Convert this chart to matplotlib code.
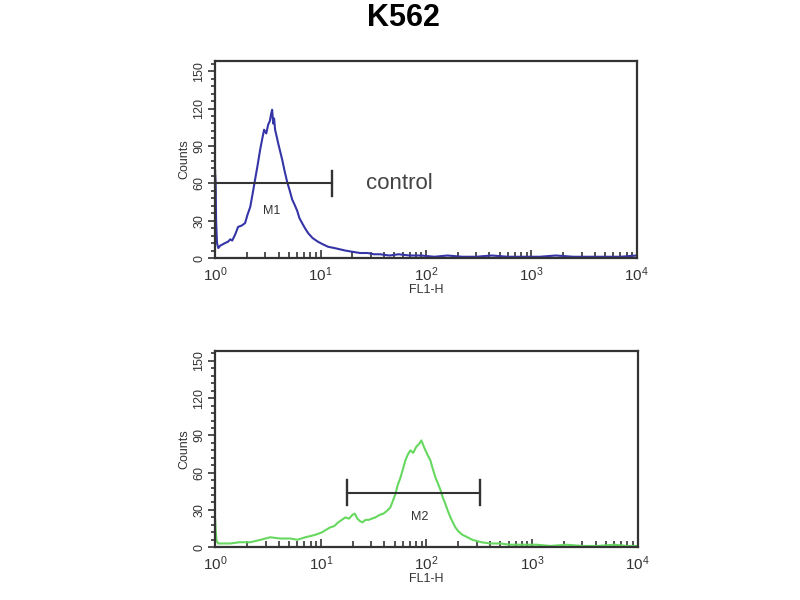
import numpy as np
import matplotlib.pyplot as plt
from matplotlib.ticker import MultipleLocator, LogLocator, FixedLocator

plt.rcParams['font.family'] = ['Liberation Sans', 'DejaVu Sans']

# control histogram (FL1-H, counts)
ctrl_x = [1.0, 1.01, 1.02, 1.04, 1.07, 1.12, 1.18, 1.24, 1.32, 1.39, 1.45, 1.55,
          1.65, 1.78, 1.92, 2.03, 2.15, 2.27, 2.39, 2.52, 2.67, 2.80, 2.91, 3.05,
          3.18, 3.30, 3.40, 3.47, 3.55, 3.62, 3.70, 3.82, 3.96, 4.15, 4.32, 4.55,
          4.82, 5.10, 5.37, 5.65, 5.99, 6.30, 6.68, 7.10, 7.61, 8.40, 9.46, 10.5,
          11.8, 13.5, 15.2, 17.1, 20.0, 23.7, 28.0, 32.0, 36.6, 45.0, 55.0, 70.0,
          90.0, 120, 160, 220, 300, 420, 600, 850, 1200, 1700, 2500, 3500, 5000,
          7000, 10000]
ctrl_y = [66, 58, 30, 12, 8, 10, 11, 12, 13, 15, 14, 19,
          25, 26, 28, 35, 41, 52, 63, 74, 87, 96, 103, 100,
          107, 110, 116, 119, 108, 112, 103, 98, 92, 85, 79, 70,
          61, 54, 47, 43, 38, 32, 28, 24, 20, 16, 13, 11,
          9, 8, 7, 6, 5, 4, 4, 3, 3, 2, 3, 2,
          2, 1, 2, 1, 1, 2, 1, 1, 1, 2, 1, 1, 1,
          1, 2]

# stained sample histogram
samp_x = [1.0, 1.01, 1.03, 1.07, 1.2, 1.39, 1.7, 2.15, 2.7, 3.32, 4.1, 5.14,
          6.0, 7.13, 8.0, 8.88, 10.3, 11.2, 12.3, 13.4, 14.6, 15.8, 17.1, 18.5,
          19.9, 21.0, 22.2, 23.5, 24.8, 26.5, 28.3, 30.5, 32.9, 36.0, 39.1, 42.0,
          45.5, 48.0, 50.9, 53.5, 56.8, 60.0, 63.3, 67.0, 70.6, 75.0, 80.4, 85.0,
          89.6, 93.5, 97.9, 103, 109, 115, 122, 129, 136, 143, 151, 160,
          169, 178, 188, 200, 219, 245, 272, 330, 404, 500, 620, 800,
          1100, 1500, 2100, 3000, 4200, 6000, 8000, 10000]
samp_y = [22, 14, 5, 3, 3, 3, 4, 4, 6, 8, 7, 7,
          6, 8, 9, 10, 12, 14, 16, 17, 20, 22, 24, 23,
          26, 27, 23, 21, 20, 22, 22, 23, 24, 26, 27, 29,
          32, 37, 43, 50, 56, 63, 70, 75, 78, 76, 81, 83,
          86, 82, 78, 74, 70, 63, 56, 51, 46, 40, 35, 29,
          24, 20, 16, 13, 10, 8, 6, 4, 3, 3, 2, 2,
          2, 1, 2, 1, 1, 2, 1, 1]

fig = plt.figure(figsize=(8, 6), dpi=100)
fig.text(0.504, 0.970, "K562", ha="center", va="center", fontsize=22, fontweight="bold")


def style_axes(ax):
    ax.set_xscale("log")
    ax.set_xlim(1, 10000)
    ax.set_ylim(0, 158)
    ax.yaxis.set_major_locator(FixedLocator([0, 30, 60, 90, 120, 150]))
    ax.yaxis.set_minor_locator(MultipleLocator(6))
    ax.xaxis.set_minor_locator(LogLocator(base=10, subs=np.arange(2, 10), numticks=10))
    ax.set_xticks([1, 10, 100, 1000, 10000])
    ax.set_xticklabels([r"$\mathregular{10^0}$", r"$\mathregular{10^1}$", r"$\mathregular{10^2}$",
                        r"$\mathregular{10^3}$", r"$\mathregular{10^4}$"], fontsize=11, color="#333333")
    ax.tick_params(axis="x", which="both", direction="in", length=4, width=1.2, colors="#333333")
    ax.tick_params(axis="x", which="major", length=6, pad=5)
    ax.tick_params(axis="y", which="both", direction="out", width=1.2, colors="#333333")
    ax.tick_params(axis="y", which="major", length=5, labelsize=9, pad=2)
    ax.tick_params(axis="y", which="minor", length=3)
    for lab in ax.get_yticklabels():
        lab.set_rotation(90)
        lab.set_va("center")
    for sp in ax.spines.values():
        sp.set_linewidth(1.6)
        sp.set_color("#333333")
    ax.set_xlabel("FL1-H", fontsize=9, labelpad=0, color="#333333")
    ax.set_ylabel("Counts", fontsize=9, labelpad=2, color="#333333")


ax1 = fig.add_axes([0.269, 0.570, 0.527, 0.328])
ax1.plot(ctrl_x, ctrl_y, color="#3535a8", lw=1.5)
style_axes(ax1)
ax1.plot([1, 12.9], [60, 60], color="#333333", lw=1.5)
ax1.plot([12.9, 12.9], [50, 70], color="#333333", lw=1.7)
ax1.plot([1.0, 1.0], [50, 70], color="#333333", lw=1.7)
ax1.text(3.45, 38, "M1", ha="center", va="center", fontsize=9, color="#333333")
ax1.text(27, 60, "control", ha="left", va="center", fontsize=16, color="#444444")

ax2 = fig.add_axes([0.269, 0.088, 0.528, 0.327])
ax2.plot(samp_x, samp_y, color="#66d860", lw=1.5)
style_axes(ax2)
ax2.plot([17.8, 325], [44, 44], color="#333333", lw=1.5)
ax2.plot([17.8, 17.8], [34, 54], color="#333333", lw=1.7)
ax2.plot([325, 325], [34, 54], color="#333333", lw=1.7)
ax2.text(86, 24, "M2", ha="center", va="center", fontsize=9, color="#333333")

fig.savefig("out.png", dpi=100)
